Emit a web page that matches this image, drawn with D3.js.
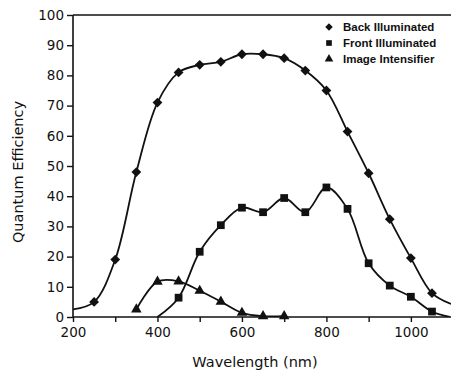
<!DOCTYPE html>
<html>
<head>
<meta charset="utf-8">
<script src="https://cdn.jsdelivr.net/npm/d3@7"></script>
<style>
  body { margin: 0; background: #fff; }
  svg { display: block; }
  .tick text { font-family: "DejaVu Sans", sans-serif; font-size: 13.5px; fill: #111; }
</style>
</head>
<body>
<svg class="chart"></svg>
<script>
const width = 451,
      height = 372

// wavelength (nm) and quantum efficiency (%)
const backWl = [250, 300, 350, 400, 450, 500, 550, 600, 650, 700, 750, 800, 850, 900, 950, 1000, 1050]
const backQE = [5, 19, 48, 71, 81, 83.5, 84.5, 87, 87, 85.7, 81.6, 75, 61.4, 47.6, 32.4, 19.5, 7.9]
const backEdges = [[200, 2.5], [1095, 4.3]]

const frontWl = [450, 500, 550, 600, 650, 700, 750, 800, 850, 900, 950, 1000, 1050]
const frontQE = [6.4, 21.6, 30.4, 36.2, 34.7, 39.4, 34.7, 42.9, 35.8, 17.8, 10.4, 6.7, 1.8]
const frontEdges = [[400, 0], [1092, 0]]

const intWl = [350, 400, 450, 500, 550, 600, 650, 700]
const intQE = [2.5, 11.7, 11.8, 8.7, 5.1, 1.4, 0.3, 0.3]

const legendLabels = ["Back Illuminated", "Front Illuminated", "Image Intensifier"]
const xTicks = [200, 300, 400, 500, 600, 700, 800, 900, 1000]
const xLabels = [200, 400, 600, 800, 1000]
const yTicks = [0, 10, 20, 30, 40, 50, 60, 70, 80, 90, 100]

const margin = { left: 73, top: 15, bottom: 55 }

const x = d3.scaleLinear().domain([200, 1095]).range([margin.left, 451])
const y = d3.scaleLinear().domain([0, 100]).range([height - margin.bottom, margin.top])

const chart = d3.select(".chart")
    .attr("width", width)
    .attr("height", height)

chart.append("defs").append("clipPath").attr("id", "plot")
  .append("rect")
    .attr("x", margin.left)
    .attr("y", margin.top - 2)
    .attr("width", width - margin.left)
    .attr("height", y(0) - margin.top + 2)

// top frame line
chart.append("line")
    .attr("x1", x(200)).attr("x2", width)
    .attr("y1", y(100)).attr("y2", y(100))
    .style("stroke", "#111").style("stroke-width", 1.6)

const xAxis = chart.append("g")
    .attr("transform", `translate(0,${y(0)})`)
    .call(d3.axisBottom(x).tickValues(xTicks).tickSize(5).tickPadding(5)
      .tickFormat(d => xLabels.includes(d) ? d : ""))
xAxis.select(".domain").attr("d", `M${x(200)},0H${width}`)

const yAxis = chart.append("g")
    .attr("transform", `translate(${x(200)},0)`)
    .call(d3.axisLeft(y).tickValues(yTicks).tickSize(6).tickPadding(3))
yAxis.select(".domain").attr("d", `M0,${y(100)}V${y(0)}`)

chart.selectAll(".domain").style("stroke", "#111").style("stroke-width", 1.6)
chart.selectAll(".tick line").style("stroke", "#111").style("stroke-width", 1.4)

chart.append("text")
    .attr("x", 255).attr("y", 367)
    .attr("text-anchor", "middle")
    .style("font-family", "DejaVu Sans, sans-serif")
    .style("font-size", "14.5px")
    .style("fill", "#111")
    .text("Wavelength (nm)")

chart.append("text")
    .attr("transform", "translate(23,172) rotate(-90)")
    .attr("text-anchor", "middle")
    .style("font-family", "DejaVu Sans, sans-serif")
    .style("font-size", "14.5px")
    .style("fill", "#111")
    .text("Quantum Efficiency")

const line = d3.line()
    .x(d => x(d[0]))
    .y(d => y(d[1]))
    .curve(d3.curveCatmullRom.alpha(0.5))

const series = [
  { wl: backWl, qe: backQE, edges: backEdges, shape: "diamond" },
  { wl: frontWl, qe: frontQE, edges: frontEdges, shape: "square" },
  { wl: intWl, qe: intQE, edges: null, shape: "triangle" }
]

const symbolPath = (shape, big) => {
  if (shape === "diamond") return d3.symbol(d3.symbolSquare, big ? 48 : 28)()
  if (shape === "square") return d3.symbol(d3.symbolSquare, big ? 60 : 32)()
  return d3.symbol(d3.symbolTriangle, big ? 48 : 32)()
}

const plot = chart.append("g").attr("clip-path", "url(#plot)")

series.forEach(s => {
  const pts = s.wl.map((w, i) => [w, s.qe[i]])
  const full = s.edges ? [s.edges[0], ...pts, s.edges[1]] : pts
  plot.append("path")
      .datum(full)
      .attr("d", line)
      .style("fill", "none")
      .style("stroke", "#111")
      .style("stroke-width", 1.8)
})

series.forEach(s => {
  const pts = s.wl.map((w, i) => [w, s.qe[i]])
  chart.append("g").selectAll("path")
    .data(pts)
    .enter()
    .append("path")
      .attr("d", symbolPath(s.shape, true))
      .attr("transform", d => `translate(${x(d[0])},${y(d[1])})` + (s.shape === "diamond" ? " rotate(45)" : ""))
      .style("fill", "#111")
})

const legend = chart.append("g")
legendLabels.forEach((label, i) => {
  const ly = 27 + i * 16
  legend.append("path")
      .attr("d", symbolPath(series[i].shape, false))
      .attr("transform", `translate(329,${ly})` + (series[i].shape === "diamond" ? " rotate(45)" : ""))
      .style("fill", "#111")
  legend.append("text")
      .attr("x", 343).attr("y", ly + 4)
      .style("font-family", "Liberation Sans, Arial, sans-serif")
      .style("font-size", "11.5px")
      .style("font-weight", "bold")
      .style("fill", "#111")
      .text(label)
})
</script>
</body>
</html>
